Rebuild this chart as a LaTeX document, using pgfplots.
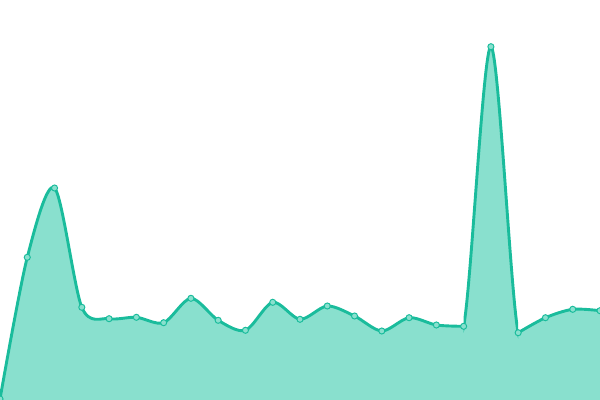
\documentclass[border=0pt]{standalone}
\usepackage{pgfplots}
\pgfplotsset{compat=1.18}
\definecolor{lineC}{RGB}{26,188,156}
\definecolor{fillC}{RGB}{137,224,206}
\pgfplotstableread{
x y
0 1
1 142.7
2 212
3 92.7
4 81.3
5 82.7
6 77.3
7 101.7
8 79.7
9 69.7
10 97.7
11 80.7
12 94
13 84
14 69
15 82.3
16 75
17 73.7
18 353.3
19 67.3
20 82.3
21 90.7
22 89.3
}\datatable
\begin{document}
\begin{tikzpicture}
\begin{axis}[
  at={(0,0)}, anchor=south west,
  scale only axis, width=432bp, height=288bp,
  xmin=0, xmax=22, ymin=0, ymax=400,
  hide axis, clip=true, clip marker paths=true,
]
% fill pieces
\addplot[draw=none, fill=fillC, smooth, tension=0.5, restrict x to domain=0:17] table {\datatable} \closedcycle;
\addplot[draw=none, fill=fillC, smooth, tension=0.5, restrict x to domain=19:22] table {\datatable} \closedcycle;
\begin{scope}
\clip (axis cs:16.8,0) rectangle (axis cs:19.2,400);
\addplot[draw=none, fill=fillC, smooth, tension=0.5, restrict x to domain=16:20] table {\datatable} \closedcycle;
\end{scope}
\begin{scope}
\clip (axis cs:17,0) rectangle (axis cs:19,400);
\addplot[draw=lineC, line width=2.1pt, smooth, tension=0.5, restrict x to domain=16:20] table {\datatable};
\end{scope}
% lines
\addplot[draw=lineC, line width=2.1pt, smooth, tension=0.5, restrict x to domain=0:17] table {\datatable};
\addplot[draw=lineC, line width=2.1pt, smooth, tension=0.5, restrict x to domain=19:22] table {\datatable};
% marks
\addplot[only marks, mark=*, mark size=2.2pt, mark options={fill=fillC, draw=lineC, line width=0.7pt}] table {\datatable};
\end{axis}
\pgfresetboundingbox
\useasboundingbox (0,0) rectangle (432bp,288bp);
\end{tikzpicture}
\end{document}
